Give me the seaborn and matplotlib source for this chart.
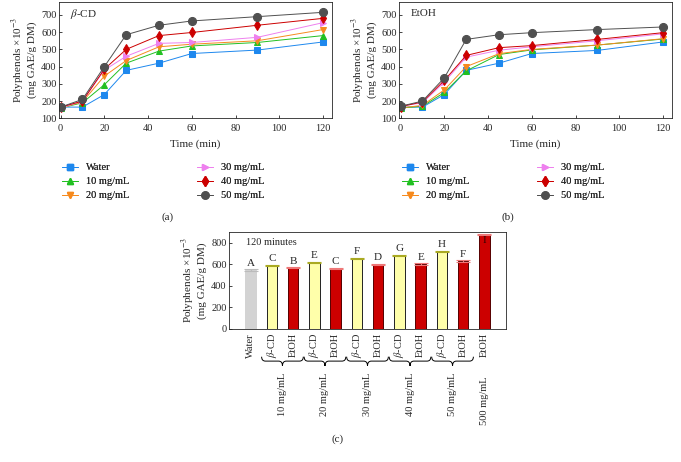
import numpy as np
import pandas as pd
import matplotlib
matplotlib.use("Agg")
import matplotlib.pyplot as plt
from matplotlib.lines import Line2D
from matplotlib.path import Path
from matplotlib.patches import PathPatch
import matplotlib.transforms as mtransforms
import seaborn as sns

# --- data: extraction kinetics (time in min) ---
times = [0, 10, 20, 30, 45, 60, 90, 120]
series = ["Water", "10 mg/mL", "20 mg/mL", "30 mg/mL", "40 mg/mL", "50 mg/mL"]

cd_water = [165, 165, 238, 378, 420, 476, 496, 543]
cd_10 = [160, 190, 295, 420, 490, 520, 540, 580]
cd_20 = [160, 195, 345, 435, 515, 530, 550, 615]
cd_30 = [160, 200, 380, 460, 535, 540, 570, 655]
cd_40 = [165, 200, 385, 500, 580, 598, 640, 680]
cd_50 = [165, 210, 400, 585, 640, 665, 690, 715]

et_water = [165, 165, 238, 378, 420, 476, 494, 543]
et_10 = [160, 170, 250, 375, 470, 497, 525, 560]
et_20 = [160, 175, 265, 400, 475, 500, 525, 562]
et_30 = [170, 190, 310, 455, 495, 515, 550, 590]
et_40 = [168, 195, 320, 465, 510, 522, 558, 597]
et_50 = [170, 200, 335, 558, 585, 597, 615, 630]

# --- data: 120 minutes bar chart ---
bar_ids = ["w", "cd10", "et10", "cd20", "et20", "cd30", "et30",
           "cd40", "et40", "cd50", "et50", "et500"]
bar_labels = ["Water", r"$\beta$-CD", "EtOH", r"$\beta$-CD", "EtOH", r"$\beta$-CD", "EtOH",
              r"$\beta$-CD", "EtOH", r"$\beta$-CD", "EtOH", "EtOH"]
bar_values = [545, 588, 566, 616, 560, 655, 597, 683, 600, 717, 628, 871]
bar_errors = [6, 6, 6, 5, 6, 6, 6, 5, 6, 5, 8, 6]
bar_letters = ["A", "C", "B", "E", "C", "F", "D", "G", "E", "H", "F", "I"]
conc_labels = ["10 mg/mL", "20 mg/mL", "30 mg/mL", "40 mg/mL", "50 mg/mL"]

sns.set_style("ticks")
plt.rcParams["font.family"] = ["Liberation Serif", "DejaVu Serif"]
plt.rcParams["mathtext.fontset"] = "stix"
plt.rcParams["xtick.direction"] = "in"
plt.rcParams["ytick.direction"] = "in"

colors = ["#1e88ee", "#22c022", "#f68a1e", "#ee80ee", "#cc0000", "#505050"]
markers = ["s", "^", "v", ">", "d", "o"]
msizes = [4.3, 4.8, 4.8, 4.8, 5.2, 5.8]
palette = dict(zip(series, colors))
marker_map = dict(zip(series, markers))

fig = plt.figure(figsize=(6.81, 4.62), dpi=100)
W, H = 681, 462


def px_axes(l, t, r, b):
    return fig.add_axes([l / W, 1 - b / H, (r - l) / W, (b - t) / H])


ax_a = px_axes(59.3, 2, 331.7, 118.3)
ax_b = px_axes(399.3, 2, 671.7, 118.3)
ax_c = px_axes(229.3, 231.7, 505.7, 329)

ylabel = "Polyphenols \u00d710$^{-3}$\n(mg GAE/g DM)"


def kinetics(ax, vals, tag):
    df = pd.DataFrame({
        "time": times * len(series),
        "value": np.concatenate(vals),
        "series": np.repeat(series, len(times)),
    })
    sns.lineplot(data=df, x="time", y="value", hue="series", style="series",
                 palette=palette, markers=marker_map, dashes=False,
                 linewidth=0.7, legend=False, ax=ax)
    for ln, ms, c in zip(ax.get_lines(), msizes, colors):
        ln.set_markersize(ms)
        ln.set_markeredgecolor(c)
        ln.set_markerfacecolor(c)
    ax.set_xlim(-0.6, 124)
    ax.set_ylim(100, 775)
    ax.set_xticks([0, 20, 40, 60, 80, 100, 120])
    ax.set_yticks([100, 200, 300, 400, 500, 600, 700])
    ax.tick_params(labelsize=7.5, length=2.5, width=0.6, pad=2)
    ax.tick_params(axis="x", pad=4)
    ax.set_xlabel("Time (min)", fontsize=8, labelpad=5)
    ax.set_ylabel(ylabel, fontsize=8, labelpad=3, linespacing=1.1)
    for s in ax.spines.values():
        s.set_visible(True)
        s.set_linewidth(0.6)
    ax.text(0.04, 0.9, tag, transform=ax.transAxes, fontsize=8, va="center")


kinetics(ax_a, [cd_water, cd_10, cd_20, cd_30, cd_40, cd_50], r"$\beta$-CD")
kinetics(ax_b, [et_water, et_10, et_20, et_30, et_40, et_50], "EtOH")

handles = [Line2D([], [], color=c, marker=m, markersize=ms * 0.9, linewidth=0.7,
                  markeredgecolor=c) for c, m, ms in zip(colors, markers, msizes)]


def add_legends(x0, x1):
    for k, xs in enumerate([x0, x1]):
        lg = fig.legend(handles[3 * k:3 * k + 3], series[3 * k:3 * k + 3],
                        loc="upper left", bbox_to_anchor=(xs / W, 1 - 163 / H),
                        frameon=False, fontsize=7.5, handlelength=1.6,
                        handletextpad=0.7, labelspacing=0.46,
                        borderpad=0, borderaxespad=0)
        fig.add_artist(lg)


add_legends(61.7, 196.7)
add_legends(401.7, 536.7)
fig.text(168 / W, 1 - 216.7 / H, "(a)", fontsize=8, ha="center", va="center")
fig.text(508 / W, 1 - 216.7 / H, "(b)", fontsize=8, ha="center", va="center")

# --- bar chart ---
bar_colors = ["#d3d3d3"] + ["#ffffaa", "#cc0000"] * 5 + ["#cc0000"]
edge_colors = ["#d3d3d3"] + ["#222222", "#550000"] * 5 + ["#550000"]
err_colors = ["#bbbbbb"] + ["#aaaa22", "#ee7777"] * 5 + ["#ee7777"]
sns.barplot(x=bar_ids, y=bar_values, hue=bar_ids, palette=bar_colors,
            order=bar_ids, legend=False, width=0.49, saturation=1, ax=ax_c)
for p, ec in zip(ax_c.patches, edge_colors):
    p.set_edgecolor(ec)
    p.set_linewidth(0.7)
for i in range(len(bar_ids)):
    ax_c.errorbar(i, bar_values[i], yerr=bar_errors[i], fmt="none",
                  ecolor=err_colors[i], elinewidth=0.8, capsize=5, capthick=0.8)
    if i == len(bar_ids) - 1:
        ax_c.text(i, bar_values[i] - 15, bar_letters[i], ha="center", va="top",
                  fontsize=8, color="#330000")
    else:
        ax_c.text(i, bar_values[i] + bar_errors[i] + 15, bar_letters[i],
                  ha="center", va="bottom", fontsize=8)
ax_c.set_xlim(-1, 12)
ax_c.set_ylim(0, 900)
ax_c.set_yticks([0, 200, 400, 600, 800])
ax_c.set_xticks(range(len(bar_ids)))
ax_c.set_xticklabels(bar_labels, rotation=90, fontsize=7.5)
ax_c.tick_params(axis="x", length=0, pad=3)
ax_c.tick_params(axis="y", labelsize=7.5, length=2.5, width=0.6, pad=2)
ax_c.set_ylabel(ylabel, fontsize=8, labelpad=3, linespacing=1.1)
ax_c.set_xlabel("")
for s in ax_c.spines.values():
    s.set_visible(True)
    s.set_linewidth(0.6)
ax_c.text(0.06, 0.89, "120 minutes", transform=ax_c.transAxes, fontsize=7.5,
          va="center")

# curly braces under the concentration pairs
trans = mtransforms.blended_transform_factory(ax_c.transData, ax_c.transAxes)
yt, ym, yb = -0.285, -0.33, -0.38
for k, lab in enumerate(conc_labels):
    x0, x1 = 0.52 + 2 * k, 2.48 + 2 * k
    xc = (x0 + x1) / 2
    d = 0.18
    verts = [(x0, yt), (x0, ym), (x0 + d, ym), (xc - d, ym), (xc, ym), (xc, yb),
             (xc, yb), (xc, ym), (xc + d, ym), (x1 - d, ym), (x1, ym), (x1, yt)]
    codes = [Path.MOVETO, Path.CURVE3, Path.CURVE3, Path.LINETO, Path.CURVE3, Path.CURVE3,
             Path.MOVETO, Path.CURVE3, Path.CURVE3, Path.LINETO, Path.CURVE3, Path.CURVE3]
    pp = PathPatch(Path(verts, codes), transform=trans, fill=False,
                   lw=0.7, edgecolor="black", clip_on=False)
    ax_c.add_patch(pp)
    ax_c.text(xc, -0.45, lab, transform=trans, rotation=90, ha="center",
              va="top", fontsize=7.5)
ax_c.text(11, -0.49, "500 mg/mL", transform=trans, rotation=90, ha="center",
          va="top", fontsize=7.5)
fig.text(338 / W, 1 - 439 / H, "(c)", fontsize=8, ha="center", va="center")

fig.savefig("out.png", dpi=100)
